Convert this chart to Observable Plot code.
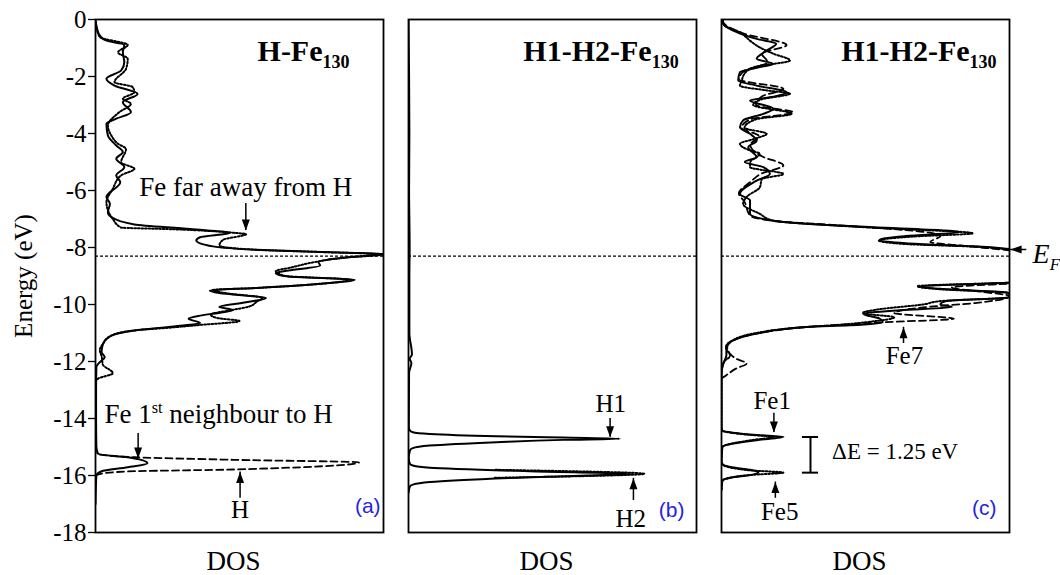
<!DOCTYPE html>
<html>
<head>
<meta charset="utf-8">
<script src="https://cdn.jsdelivr.net/npm/d3@7"></script>
<script src="https://cdn.jsdelivr.net/npm/@observablehq/plot@0.6"></script>
<style>
  html, body { margin: 0; padding: 0; background: #fff; }
  #chart { width: 1060px; height: 575px; overflow: hidden; }
</style>
</head>
<body>
<div id="chart"></div>
<script>
// ---------------- data: [energy (eV), DOS (arbitrary, 0..100 = panel width)] ----------------
const panels = ["a", "b", "c"];
const yTicks = [0, -2, -4, -6, -8, -10, -12, -14, -16, -18];
const fermiLevel = -8.3;

// Panel (a) H-Fe130
const aSolid = [[0,0],[-0.3,0.5],[-0.56,1.5],[-0.74,3.8],[-0.89,10],[-1.15,9.5],[-1.5,10],[-1.79,8.9],[-2.08,3.8],[-2.32,6.6],[-2.61,14.6],[-2.9,9.5],[-3.25,12.3],[-3.48,7.2],[-3.66,3.8],[-4.07,4.3],[-4.42,7.2],[-4.65,9.5],[-4.89,7.2],[-5.18,10],[-5.47,7.2],[-5.71,8.6],[-6.23,3.8],[-6.47,5.0],[-6.76,4.3],[-6.93,5.5],[-7.19,13.5],[-7.35,32.9],[-7.49,46.6],[-7.64,36.3],[-7.75,35],[-7.96,40.8],[-8.08,55.7],[-8.16,78.5],[-8.22,100],[-8.34,87.7],[-8.51,77.4],[-8.63,78],[-8.81,67],[-8.9,62.6],[-9.02,67],[-9.13,90],[-9.27,78.5],[-9.42,55.7],[-9.51,39.7],[-9.6,43],[-9.77,59.2],[-9.92,52.3],[-10.09,43],[-10.19,47.7],[-10.27,44.3],[-10.39,36.3],[-10.5,32.3],[-10.65,36.3],[-10.77,27.2],[-10.91,13.5],[-11.09,5.5],[-11.38,2.6],[-11.67,2.1],[-11.85,3.2],[-12.02,1.5],[-12.2,0.3],[-13,0.2],[-14,0.2],[-15.0,0.3],[-15.24,0.9],[-15.36,11.2],[-15.57,18],[-15.71,11.2],[-15.85,2.1],[-16.0,0.3],[-17,0]];
const aDotted = [[-0.1,0],[-0.62,1.5],[-0.89,11.2],[-1.15,7.8],[-1.38,11.2],[-1.73,10.6],[-2.2,6.6],[-2.37,12.9],[-2.55,13.5],[-2.78,9.5],[-2.96,12.3],[-3.25,8.3],[-3.72,4.3],[-4.07,5.5],[-4.36,7.8],[-4.54,10.6],[-5.01,8.9],[-5.24,13.5],[-5.47,8.9],[-5.94,6.0],[-6.41,3.8],[-7.0,6],[-7.3,8.9],[-7.36,27],[-7.49,48.8],[-7.53,52.3],[-7.73,44.3],[-7.93,43],[-8.08,55.7],[-8.16,78.5],[-8.24,100],[-8.36,86],[-8.51,76.2],[-8.7,68],[-8.83,62.6],[-9.0,66],[-9.13,88],[-9.27,78.5],[-9.42,55.7],[-9.49,40.8],[-9.6,45],[-9.77,58],[-9.9,56],[-10.07,53.4],[-10.2,47],[-10.35,40],[-10.47,42],[-10.58,50],[-10.72,36],[-10.8,27.2],[-10.91,13.5],[-11.09,5.5],[-11.38,2.6],[-11.6,1.5],[-11.85,2.2],[-12.1,2.5],[-12.41,6.0],[-12.6,0.9],[-12.7,0]];
const aDashedH = [[-15.2,0],[-15.27,2],[-15.36,13.6],[-15.45,48],[-15.54,91.5],[-15.79,48],[-15.85,13.6],[-15.92,3],[-16.0,0]];

// Panel (b) H1-H2-Fe130
const bSolid = [[0,0],[-2,0.2],[-4,0.3],[-6,0.2],[-8,0.4],[-9,0.3],[-11,0.3],[-11.75,1.2],[-11.9,0.4],[-12.05,1.0],[-12.4,0.2],[-14.3,0.1],[-14.42,0.5],[-14.48,1.5],[-14.54,7.4],[-14.62,30.6],[-14.67,53.7],[-14.71,73.4],[-14.75,53.7],[-14.83,30.6],[-14.95,7.4],[-15.04,1.5],[-15.12,0.5],[-15.4,0.1],[-15.59,0.5],[-15.65,1.5],[-15.73,7.4],[-15.85,42],[-15.94,77],[-16.06,42],[-16.23,7.4],[-16.32,1.5],[-16.38,0.5],[-16.6,0]];
const bDotted = [[-15.8,30],[-15.94,82],[-16.08,30]];

// Panel (c) H1-H2-Fe130 : Fe1 (solid), Fe5 (dotted), Fe7 (dashed)
const cSolidFe1 = [[0,0.5],[-0.15,0.6],[-0.39,4.1],[-0.68,12.2],[-0.85,19],[-1.09,15.7],[-1.38,12.2],[-1.56,18],[-1.67,13.3],[-1.85,6.4],[-2.14,5.8],[-2.32,12.2],[-2.55,22.6],[-2.73,16.8],[-2.84,9.9],[-3.13,18],[-3.31,14.5],[-3.54,7.5],[-3.78,6.4],[-4.01,9.9],[-4.25,12.2],[-4.48,9.3],[-4.83,12.2],[-5.0,8.1],[-5.18,14.5],[-5.42,16.8],[-5.65,12.2],[-6.12,6.4],[-6.35,9.9],[-6.82,9.9],[-7.06,18],[-7.2,35],[-7.29,52.8],[-7.4,77],[-7.46,83],[-7.6,64],[-7.73,55],[-7.85,64],[-7.96,87.6],[-8.05,100],[-8.3,115],[-8.8,110],[-9.2,105],[-9.37,69],[-9.45,76],[-9.6,100],[-9.75,100],[-9.88,78],[-10.0,76],[-10.09,80],[-10.2,62],[-10.33,49.3],[-10.5,55],[-10.62,56],[-10.73,44.5],[-10.79,29.6],[-11.02,12.2],[-11.26,4.1],[-11.49,1.7],[-11.78,1.7],[-12.07,0.6],[-12.43,0],[-14.3,0],[-14.43,0.3],[-14.5,4],[-14.58,12.2],[-14.64,21.5],[-14.76,12.2],[-14.88,4],[-15.0,0.3],[-15.5,0],[-15.6,0.3],[-15.7,3],[-15.8,10],[-15.88,12.8],[-15.97,11],[-16.08,3],[-16.18,0.3],[-16.5,0]];
const cDottedFe5 = [[0,0],[-0.2,1],[-0.45,6.4],[-0.75,10],[-0.98,13.3],[-1.2,18],[-1.44,23.8],[-1.65,12],[-1.9,8],[-2.15,7],[-2.32,6.4],[-2.48,15],[-2.6,23.8],[-2.8,14],[-3.0,11],[-3.31,24.4],[-3.5,12],[-3.8,8],[-4.01,15.7],[-4.2,11],[-4.36,6.4],[-4.6,10],[-4.71,13.3],[-5.0,10],[-5.18,9.9],[-5.42,21.5],[-5.6,14],[-5.89,13.3],[-6.2,9],[-6.47,7.5],[-6.82,13.3],[-7.06,18],[-7.2,35],[-7.32,55],[-7.5,87.4],[-7.62,66],[-7.75,54.6],[-7.88,64],[-7.97,88],[-8.07,100],[-8.3,115],[-8.8,110],[-9.2,105],[-9.36,68],[-9.46,75],[-9.6,100],[-9.75,100],[-9.88,76],[-10.0,70],[-10.15,56],[-10.3,49],[-10.45,60],[-10.6,52],[-10.72,40],[-10.8,28],[-11.02,11],[-11.26,3.8],[-11.5,1.5],[-11.8,3],[-12.0,1],[-12.4,0],[-14.3,0],[-14.43,0.3],[-14.5,3.5],[-14.58,10.5],[-14.64,18],[-14.76,10.5],[-14.88,3.5],[-15.0,0.3],[-15.5,0],[-15.6,0.3],[-15.72,3],[-15.82,10],[-15.9,21.5],[-15.98,10],[-16.08,3],[-16.18,0.3],[-16.5,0]];
const cDashedFe7 = [[0,0],[-0.2,1.5],[-0.5,8],[-0.9,22.6],[-1.2,14],[-1.5,16],[-1.8,8],[-2.1,6],[-2.43,21.5],[-2.7,14],[-3.0,12],[-3.26,25],[-3.5,10],[-3.8,7],[-4.1,13],[-4.4,10],[-4.8,14],[-5.12,21.5],[-5.4,14],[-5.7,10],[-6.1,6],[-6.4,8],[-6.88,9.9],[-7.08,20],[-7.25,45],[-7.45,70],[-7.6,76],[-7.81,72.5],[-7.95,85],[-8.1,100],[-8.3,115],[-9.2,108],[-9.4,80],[-9.55,90],[-9.7,100],[-9.95,88],[-10.1,70],[-10.3,60],[-10.5,80.7],[-10.62,57],[-10.79,29.6],[-11.02,12.2],[-11.26,4.1],[-11.49,2],[-11.72,2.9],[-11.9,5],[-12.07,8.7],[-12.25,5],[-12.48,1.7],[-12.6,0]];

// annotation text (panel, x in DOS units, y in eV)
const titles = [
  {panel: "a", x: 88.2, y: -1.44, text: "H-Fe_{130}"},
  {panel: "b", x: 93.8, y: -1.44, text: "H1-H2-Fe_{130}"},
  {panel: "c", x: 95.5, y: -1.44, text: "H1-H2-Fe_{130}"}
];
const bigLabels = [
  {panel: "a", x: 15.2, y: -6.18, text: "Fe far away from H"},
  {panel: "a", x: 3.1, y: -14.16, text: "Fe 1^{st} neighbour to H"}
];
const peakLabels = [
  {panel: "a", x: 50.2, y: -17.5, text: "H"},
  {panel: "b", x: 70.2, y: -13.78, text: "H1"},
  {panel: "b", x: 77.2, y: -17.81, text: "H2"},
  {panel: "c", x: 63.5, y: -12.08, text: "Fe7"},
  {panel: "c", x: 17.6, y: -13.66, text: "Fe1"},
  {panel: "c", x: 20.2, y: -17.55, text: "Fe5"}
];
const panelTags = [
  {panel: "a", x: 99, y: -17.33, text: "(a)"},
  {panel: "b", x: 95.8, y: -17.46, text: "(b)"},
  {panel: "c", x: 95.5, y: -17.4, text: "(c)"}
];
const arrowsDown = [
  {panel: "a", x: 52.2, y1: -6.46, y2: -7.4},
  {panel: "a", x: 14.8, y1: -14.53, y2: -15.4},
  {panel: "b", x: 70.0, y1: -14.0, y2: -14.66},
  {panel: "c", x: 18.2, y1: -13.82, y2: -14.49}
];
const arrowsUp = [
  {panel: "a", x: 50.2, y1: -16.8, y2: -15.88},
  {panel: "b", x: 78.1, y1: -16.88, y2: -16.1},
  {panel: "c", x: 63.2, y1: -11.37, y2: -10.8},
  {panel: "c", x: 18.7, y1: -16.8, y2: -16.23}
];
const deltaE = {panel: "c", x: 30.9, top: -14.65, bottom: -15.9, half: 2.8, label: "ΔE = 1.25 eV", labelX: 38.4, labelY: -15.42};
const fermiArrow = {panel: "c", x1: 106, x2: 100.4, y: -8.07, labelX: 108, labelY: -8.56, label: "E_{F}"};

// ---------------- build rows ----------------
function rows(pts, panel, series) {
  return pts.map(([e, d]) => ({panel, series, e, d})).sort((p, q) => p.e - q.e);
}
const solidRows = [...rows(aSolid, "a", "aS"), ...rows(bSolid, "b", "bS"), ...rows(cSolidFe1, "c", "cS")];
const dottedRows = [...rows(aDotted, "a", "aD"), ...rows(bDotted, "b", "bD"), ...rows(cDottedFe5, "c", "cD")];
const dashedRows = [...rows(aDashedH, "a", "aH"), ...rows(cDashedFe7, "c", "cH")];

const arrowDownSym = {draw(ctx) { ctx.moveTo(0, 0); ctx.lineTo(-4, -11); ctx.lineTo(4, -11); ctx.closePath(); }};
const arrowUpSym = {draw(ctx) { ctx.moveTo(0, 0); ctx.lineTo(-4, 11); ctx.lineTo(4, 11); ctx.closePath(); }};
const arrowLeftSym = {draw(ctx) { ctx.moveTo(0, 0); ctx.lineTo(11, -4); ctx.lineTo(11, 4); ctx.closePath(); }};

const serif = "'Liberation Serif', 'Times New Roman', serif";
const sans = "'Liberation Sans', Arial, sans-serif";

const chart = Plot.plot({
  width: 1060,
  height: 575,
  marginLeft: 94,
  marginRight: 49,
  marginTop: 19,
  marginBottom: 43,
  style: {fontFamily: serif, fontSize: "24px", background: "white", color: "black", overflow: "visible"},
  fx: {domain: panels, axis: null, paddingInner: 0.0796, paddingOuter: 0},
  x: {domain: [0, 100], axis: null},
  y: {domain: [-18, 0], axis: null},
  marks: [
    Plot.ruleY([fermiLevel], {stroke: "black", strokeWidth: 1.3, strokeDasharray: "3,2"}),
    Plot.line(dottedRows, {fx: "panel", x: "d", y: "e", z: "series", curve: "monotone-y", clip: true, stroke: "black", strokeWidth: 2, strokeDasharray: "1.6,1.9"}),
    Plot.line(dashedRows, {fx: "panel", x: "d", y: "e", z: "series", curve: "monotone-y", clip: true, stroke: "black", strokeWidth: 1.8, strokeDasharray: "7,4"}),
    Plot.line(solidRows, {fx: "panel", x: "d", y: "e", z: "series", curve: "monotone-y", clip: true, stroke: "black", strokeWidth: 2}),
    Plot.frame({stroke: "black", strokeWidth: 1.8}),
    Plot.axisY({ticks: yTicks, tickFormat: d => String(d), tickSize: 7, tickPadding: 2, fontSize: 25, fontFamily: serif, label: null, strokeWidth: 1.3}),
    Plot.text([{panel: "a"}], {fx: "panel", frameAnchor: "left", dx: -72, rotate: -90, textAnchor: "middle", lineAnchor: "middle", text: () => "Energy (eV)", fontSize: 25, fontFamily: serif}),
    Plot.text(panels.map(p => ({panel: p})), {fx: "panel", frameAnchor: "bottom", dx: -6, dy: 37, lineAnchor: "bottom", text: () => "DOS", fontSize: 27, fontFamily: serif}),
    Plot.text(titles, {fx: "panel", x: "x", y: "y", text: "text", textAnchor: "end", lineAnchor: "bottom", fontSize: 30, fontWeight: "bold", fontFamily: serif}),
    Plot.text(bigLabels, {fx: "panel", x: "x", y: "y", text: "text", textAnchor: "start", lineAnchor: "bottom", fontSize: 27, fontFamily: serif}),
    Plot.text(peakLabels, {fx: "panel", x: "x", y: "y", text: "text", textAnchor: "middle", lineAnchor: "bottom", fontSize: 25, fontFamily: serif}),
    Plot.text(panelTags, {fx: "panel", x: "x", y: "y", text: "text", textAnchor: "end", lineAnchor: "bottom", fontSize: 21, fontFamily: sans, fill: "#2323e8"}),
    Plot.ruleX(arrowsDown, {fx: "panel", x: "x", y1: "y1", y2: "y2", stroke: "black", strokeWidth: 1.5}),
    Plot.dot(arrowsDown, {fx: "panel", x: "x", y: "y2", symbol: arrowDownSym, fill: "black", stroke: "none"}),
    Plot.ruleX(arrowsUp, {fx: "panel", x: "x", y1: "y1", y2: "y2", stroke: "black", strokeWidth: 1.5}),
    Plot.dot(arrowsUp, {fx: "panel", x: "x", y: "y2", symbol: arrowUpSym, fill: "black", stroke: "none"}),
    Plot.ruleX([deltaE], {fx: "panel", x: "x", y1: "top", y2: "bottom", stroke: "black", strokeWidth: 2}),
    Plot.ruleY([deltaE], {fx: "panel", y: "top", x1: d => d.x - d.half, x2: d => d.x + d.half, stroke: "black", strokeWidth: 2}),
    Plot.ruleY([deltaE], {fx: "panel", y: "bottom", x1: d => d.x - d.half, x2: d => d.x + d.half, stroke: "black", strokeWidth: 2}),
    Plot.text([deltaE], {fx: "panel", x: "labelX", y: "labelY", text: "label", textAnchor: "start", lineAnchor: "bottom", fontSize: 23, fontFamily: serif}),
    Plot.ruleY([fermiArrow], {fx: "panel", y: "y", x1: "x1", x2: "x2", stroke: "black", strokeWidth: 1.5}),
    Plot.dot([fermiArrow], {fx: "panel", x: "x2", y: "y", symbol: arrowLeftSym, fill: "black", stroke: "none"}),
    Plot.text([fermiArrow], {fx: "panel", x: "labelX", y: "labelY", text: "label", textAnchor: "start", lineAnchor: "bottom", fontSize: 28, fontStyle: "italic", fontFamily: serif})
  ]
});

document.getElementById("chart").appendChild(chart);

// turn _{..} and ^{..} markup into real subscript / superscript tspans
d3.select(chart).selectAll("text").each(function () {
  const t = this.textContent;
  if (!/[_^]\{/.test(t)) return;
  const fs = parseFloat(getComputedStyle(this).fontSize) || 24;
  const parts = t.split(/([_^]\{[^}]*\})/).filter(s => s.length);
  while (this.firstChild) this.removeChild(this.firstChild);
  let shift = 0;
  for (const p of parts) {
    const ts = document.createElementNS("http://www.w3.org/2000/svg", "tspan");
    let target = 0, txt = p;
    if (p.startsWith("_{")) { target = 0.24 * fs; txt = p.slice(2, -1); ts.setAttribute("font-size", (0.6 * fs).toFixed(1)); }
    else if (p.startsWith("^{")) { target = -0.38 * fs; txt = p.slice(2, -1); ts.setAttribute("font-size", (0.6 * fs).toFixed(1)); }
    ts.setAttribute("dy", (target - shift).toFixed(2));
    shift = target;
    ts.textContent = txt;
    this.appendChild(ts);
  }
});
</script>
</body>
</html>
